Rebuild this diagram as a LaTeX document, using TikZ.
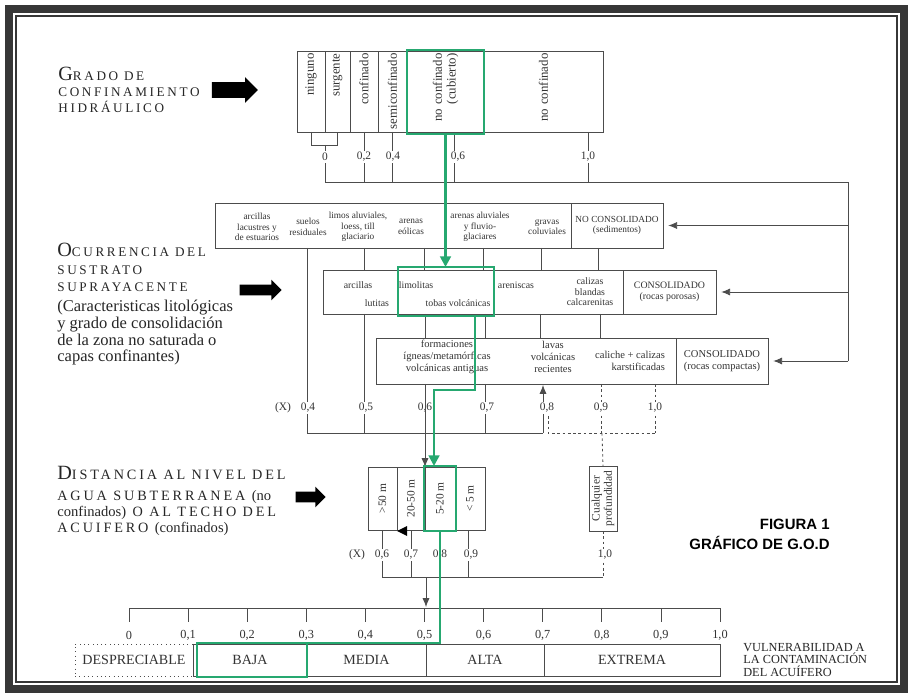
\documentclass[tikz,border=0pt]{standalone}
\usepackage{fontspec}
\setmainfont{Liberation Serif}
\newfontfamily\capsfont[LetterSpace=20]{Liberation Serif}
\newfontfamily\figfont{Liberation Sans}
\usetikzlibrary{shapes.arrows, arrows.meta, positioning, calc}
\definecolor{godgreen}{RGB}{38,168,112}
\definecolor{framegray}{RGB}{55,55,55}
\newcommand{\bigini}[1]{{\fontsize{11.5}{11.5}\selectfont #1}}
\newcommand{\lc}[1]{{\rmfamily\fontsize{8.3}{9}\selectfont #1}}
\newcommand{\fA}{\fontsize{5.3}{6}\selectfont}
\newcommand{\fB}{\fontsize{5.6}{6}\selectfont}
\newcommand{\fC}{\fontsize{6}{6.8}\selectfont}

\begin{document}
\begin{tikzpicture}[x=0.02cm, y=-0.02cm,
    ln/.style={draw=black!70, line width=0.45pt},
    dln/.style={ln, dash pattern=on 1.5pt off 1.5pt},
    cell/.style 2 args={draw=black!70, line width=0.45pt, minimum width=#1*0.02cm, minimum height=#2*0.02cm, inner sep=0pt, outer sep=0pt, align=center, text=black!80},
    rcell/.style 2 args={cell={#1}{#2}, rotate=90, text width=#1*0.02cm-0.1cm, align=right, font=\fontsize{7.3}{7.8}\selectfont},
    dcell/.style 2 args={cell={#1}{#2}, rotate=90, font=\fontsize{6.5}{7}\selectfont},
    vcell/.style={cell={#1}{32}, font=\fontsize{8}{8}\selectfont},
    sel/.style 2 args={draw=godgreen, line width=1.6pt, minimum width=#1*0.02cm, minimum height=#2*0.02cm, inner sep=0pt, outer sep=0pt},
    gline/.style={draw=godgreen, line width=1.6pt},
    gtip/.style={-{Triangle[length=6pt,width=6pt]}},
    btip/.style={-{Latex[length=5pt,width=4pt]}},
    item/.style={align=center, inner sep=0pt, text=black!80},
    val/.style={fill=white, inner sep=1pt, font=\fontsize{6.5}{6.5}\selectfont, text=black!80},
    head/.style={align=left, anchor=north west, inner sep=0pt, text=black!85},
    blockarrow/.style={single arrow, fill=black, draw=none, single arrow head extend=0.1cm}
  ]
  \fill[white] (0,0) rectangle (909,695);
  \useasboundingbox (0,0) rectangle (909,695);
  \draw[framegray, line width=4pt] (9,9) rectangle (904,689);
  \draw[framegray, line width=0.8pt] (16,16) rectangle (897,682);

  \node[head, font=\capsfont\fontsize{7.5}{9}\selectfont] (grado) at (58,67) {\bigini{G}RADO DE\\CONFINAMIENTO\\HIDRÁULICO};
  \node[blockarrow, inner sep=0.15cm, minimum height=46*0.02cm] (arrgrado) at (231,90) {};

  \node[rcell={81}{28}] (ning) at (311,91.5) {ninguno};
  \node[rcell={81}{25}] (surg) at (337.5,91.5) {surgente};
  \node[rcell={81}{28}] (conf) at (364,91.5) {confinado};
  \node[rcell={81}{29}] (semi) at (392.5,91.5) {semiconfinado};
  \node[rcell={81}{77}] (cubi) at (445.5,91.5) {no confinado\\(cubierto)};
  \node[rcell={81}{119}] (noco) at (543.5,91.5) {no confinado};

  \draw[ln] (ning.west) -- ++(0,13) -| (surg.west);
  \draw[ln] (325,145) -- (325,182);
  \draw[ln] (conf.west) -- (364,182);
  \draw[ln] (semi.west) -- (392.5,182);
  \draw[ln] (454,132) -- (454,182);
  \draw[ln] (588,132) -- (588,182);
  \draw[ln] (325,182) -- (848,182) -- (848,361);

  \node[val] (t0) at (325,157) {0};
  \node[val] (t2) at (364,157) {0,2};
  \node[val] (t4) at (393,157) {0,4};
  \node[val] (t6) at (458,157) {0,6};
  \node[val] (t10) at (588,157) {1,0};

  \node[head, font=\capsfont\fontsize{7.5}{10}\selectfont] (ocur) at (57,243) {\bigini{O}CURRENCIA DEL\\SUSTRATO\\SUPRAYACENTE};
  \node[head, font=\fontsize{9.4}{9.5}\selectfont] (ocurdesc) at (57,300) {(Caracteristicas litológicas\\y grado de consolidación\\de la zona no saturada o\\capas confinantes)};
  \node[blockarrow, inner sep=0.1cm, minimum height=42*0.02cm] (arrocur) at (258,290) {};

  \node[cell={356}{45}] (rowA) at (393,225.5) {};
  \node[cell={92}{45}, font=\fA] (nconsA) at (617,225.5) {NO CONSOLIDADO\\(sedimentos)};
  \node[item, font=\fA] (arclac) at (257,227) {arcillas\\lacustres y\\de estuarios};
  \node[item, font=\fA] (suelos) at (308,227) {suelos\\residuales};
  \node[item, font=\fA] (limos) at (358,227) {limos aluviales,\\loess, till\\glaciario};
  \node[item, font=\fA] (eolic) at (411,227) {arenas\\eólicas};
  \node[item, font=\fA] (fluvio) at (480,227) {arenas aluviales\\y fluvio-\\glaciares};
  \node[item, font=\fA] (gravas) at (547,227) {gravas\\coluviales};

  \node[cell={300}{44}] (rowB) at (473,292) {};
  \node[cell={93}{44}, font=\fB] (consB) at (669.5,292) {CONSOLIDADO\\(rocas porosas)};
  \node[item, font=\fB] (arcB) at (358,285) {arcillas};
  \node[item, font=\fB] (lutB) at (377,303) {lutitas};
  \node[item, font=\fB] (limB) at (416,285) {limolitas};
  \node[item, font=\fB] (tobB) at (458,303) {tobas volcánicas};
  \node[item, font=\fB] (areB) at (516,285) {areniscas};
  \node[item, font=\fB] (calB) at (590,292) {calizas\\blandas\\calcarenitas};

  \node[cell={300}{46}] (rowC) at (526,361) {};
  \node[cell={92}{46}, font=\fC] (consC) at (722,361) {CONSOLIDADO\\(rocas compactas)};
  \node[item, font=\fC] (formC) at (447,357) {formaciones\\ígneas/metamórficas\\volcánicas antiguas};
  \node[item, font=\fC] (lavC) at (553,357) {lavas\\volcánicas\\recientes};
  \node[item, font=\fC, align=right] (calC) at (630,361) {caliche + calizas\\karstificadas};

  \draw[ln, btip, shorten >=3pt] (848,225.5) -- (nconsA.east);
  \draw[ln, btip, shorten >=3pt] (848,292) -- (consB.east);
  \draw[ln, btip, shorten >=3pt] (848,361) -- (consC.east);

  \foreach \x in {364,424,483,541,598} \draw[ln] (\x,248) -- (\x,270);
  \foreach \x in {425,485,540,600} \draw[ln] (\x,314) -- (\x,338);
  \draw[ln] (307,248) -- (307,433);
  \draw[ln] (364,314) -- (364,433);
  \draw[ln] (485,384) -- (485,433);
  \draw[ln] (307,433) -- (543,433);
  \draw[ln, btip] (543,433) -- (543,385);
  \draw[dln] (601,384) -- (601,433);
  \draw[dln] (655,384) -- (655,433);
  \draw[dln] (548,416) -- (548,433) -- (655,433);

  \node[val] (cx) at (283,408) {(X)};
  \node[val] (c4) at (308,408) {0,4};
  \node[val] (c5) at (366,408) {0,5};
  \node[val] (c6) at (425,408) {0,6};
  \node[val] (c7) at (487,408) {0,7};
  \node[val] (c8) at (547,408) {0,8};
  \node[val] (c9) at (601,408) {0,9};
  \node[val] (c10) at (655,408) {1,0};

  \node[head, font=\capsfont\fontsize{8.1}{9}\selectfont] (dist) at (57,466) {\bigini{D}ISTANCIA AL NIVEL DEL\\[3pt]AGUA SUBTERRANEA \lc{(no}\\\lc{confinados)} O AL TECHO DEL\\ACUIFERO \lc{(confinados)}};
  \node[blockarrow, inner sep=0.1cm, minimum height=30*0.02cm] (arrdist) at (308,497) {};

  \node[dcell={63}{29}] (d1) at (382.5,498.5) {>50 m};
  \node[dcell={63}{28}] (d2) at (411,498.5) {20-50 m};
  \node[dcell={63}{30}] (d3) at (440,498.5) {5-20 m};
  \node[dcell={63}{30}] (d4) at (470,498.5) {< 5 m};
  \node[dcell={65}{28}] (cualq) at (603,498.5) {Cualquier\\profundidad};
  \fill[black] (407,526) -- (407,536) -- (397,531) -- cycle;

  \draw[ln, btip] (425,384) -- (425,467);
  \draw[dln] (602,433) -- (cualq.east);

  \foreach \x in {382,411,440,468} \draw[ln] (\x,530) -- (\x,577);
  \draw[dln] (cualq.west) -- (603,577);
  \draw[ln] (382,577) -- (603,577);
  \draw[ln, btip] (426,577) -- (426,607);

  \node[val] (dx) at (357,555) {(X)};
  \node[val] (d6) at (382,555) {0,6};
  \node[val] (d7) at (411,555) {0,7};
  \node[val] (d8) at (440,555) {0,8};
  \node[val] (d9) at (471,555) {0,9};
  \node[val] (d10) at (605,555) {1,0};

  \node[font=\figfont\bfseries\fontsize{8.5}{11}\selectfont, align=right, anchor=north east, inner sep=0pt] (fig) at (830,519) {FIGURA 1\\GRÁFICO DE G.O.D};

  \draw[ln] (129,608) -- (720,608);
  \foreach \i/\t in {0/0,1/{0,1},2/{0,2},3/{0,3},4/{0,4},5/{0,5},6/{0,6},7/{0,7},8/{0,8},9/{0,9},10/{1,0}}{
    \draw[ln] (129+59.1*\i,608) -- ++(0,14);
    \node[val, font=\fontsize{7}{7}\selectfont] (s\i) at (129+59.1*\i,635) {\t};
  }

  \node[vcell={118}, dotted] (desp) at (134,660) {DESPRECIABLE};
  \node[vcell={114}] (baja) at (250,660) {BAJA};
  \node[vcell={119}] (media) at (366.5,660) {MEDIA};
  \node[vcell={118}] (alta) at (485,660) {ALTA};
  \node[vcell={176}] (extr) at (632,660) {EXTREMA};
  \node[head, font=\fontsize{7}{7}\selectfont] (vuln) at (743,643) {VULNERABILIDAD A\\LA CONTAMINACIÓN\\DEL ACUÍFERO};

  \node[sel={77}{84}] (selA) at (445.5,92) {};
  \node[sel={96}{49}] (selB) at (446,291.5) {};
  \node[sel={32}{65}] (selD) at (440,498.5) {};
  \node[sel={110}{34}] (selV) at (252,660) {};
  \coordinate (gk1) at (475,390);
  \coordinate (gk2) at (434,390);
  \draw[gline, gtip] (selA.south) -- (selA.south |- selB.north);
  \draw[gline, gtip] (selB.south -| gk1) -- (gk1) -- (gk2) -- (gk2 |- selD.north);
  \draw[gline] (selD.south) |- (selV.north east);
\end{tikzpicture}
\end{document}
